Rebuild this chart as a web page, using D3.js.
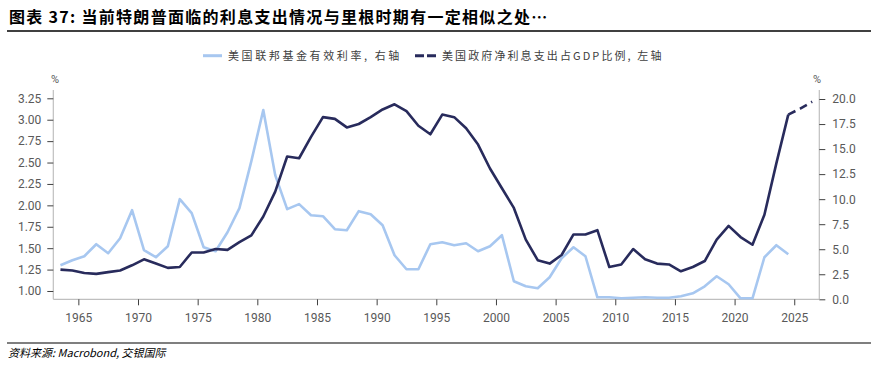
<!DOCTYPE html>
<html>
<head>
<meta charset="utf-8">
<script src="https://cdn.jsdelivr.net/npm/d3@7/dist/d3.min.js"></script>
<style>
  html, body { margin: 0; padding: 0; background: #fff; }
  svg { display: block; }
</style>
</head>
<body>
<svg id="chart" width="871" height="367"></svg>
<script>
// ---- Data ----
const titleText = "图表 37: 当前特朗普面临的利息支出情况与里根时期有一定相似之处…";
const sourceText = "资料来源: Macrobond, 交银国际";
const legendFed = "美国联邦基金有效利率, 右轴";
const legendInt = "美国政府净利息支出占GDP比例, 左轴";

const interestYears = d3.range(1963, 2027); // 1963..2026
const interestValues = [
  1.25, 1.24, 1.21, 1.20, 1.22, 1.24, 1.30, 1.37, 1.32, 1.27,
  1.28, 1.45, 1.45, 1.49, 1.48, 1.57, 1.65, 1.87, 2.16, 2.57,
  2.55, 2.80, 3.03, 3.01, 2.91, 2.95, 3.03, 3.12, 3.18, 3.10,
  2.93, 2.83, 3.06, 3.03, 2.90, 2.71, 2.43, 2.20, 1.97, 1.60,
  1.36, 1.32, 1.42, 1.66, 1.66, 1.71, 1.28, 1.31, 1.49, 1.37,
  1.32, 1.31, 1.23, 1.28, 1.35, 1.60, 1.76, 1.63, 1.54, 1.89,
  2.49, 3.06, 3.13, 3.21
];
const lastActualYear = 2024; // after this: projection (dashed)

const fedYears = d3.range(1963, 2025); // 1963..2024
const fedValues = [
  3.4, 3.9, 4.3, 5.5, 4.6, 6.1, 8.9, 4.9, 4.2, 5.3,
  10.0, 8.6, 5.2, 4.8, 6.7, 9.1, 13.8, 18.9, 12.4, 9.0,
  9.5, 8.4, 8.3, 7.0, 6.9, 8.8, 8.5, 7.4, 4.4, 3.0,
  3.0, 5.5, 5.7, 5.4, 5.6, 4.8, 5.3, 6.4, 1.8, 1.3,
  1.1, 2.2, 4.1, 5.2, 4.3, 0.2, 0.2, 0.1, 0.15, 0.2,
  0.15, 0.15, 0.3, 0.6, 1.3, 2.3, 1.5, 0.1, 0.1, 4.2,
  5.4, 4.5
];

const xTicks = [1965, 1970, 1975, 1980, 1985, 1990, 1995, 2000, 2005, 2010, 2015, 2020, 2025];
const leftTicks = [1.00, 1.25, 1.50, 1.75, 2.00, 2.25, 2.50, 2.75, 3.00, 3.25];
const rightTicks = [0, 2.5, 5, 7.5, 10, 12.5, 15, 17.5, 20];

// ---- Layout ----
const svg = d3.select("#chart");
const plot = { left: 53.3, right: 819.3, top: 90, bottom: 299.3 };
const darkColor = "#282b5c";
const lightColor = "#a7c7f0";
const axisColor = "#bfbfbf";
const labelColor = "#595959";
const numFont = "Roboto, 'Liberation Sans', sans-serif";
const cjkFont = "'Noto Sans CJK SC', sans-serif";

const x = d3.scaleLinear().domain([1962.9, 2027.1]).range([plot.left, plot.right]);
const yL = d3.scaleLinear().domain([0.903, 3.347]).range([plot.bottom, plot.top]);
const yR = d3.scaleLinear().domain([0, 20.9]).range([plot.bottom, plot.top]);

// Title
svg.append("text")
  .attr("x", 9).attr("y", 22.5)
  .attr("font-family", cjkFont).attr("font-weight", "bold")
  .attr("font-size", 16).attr("letter-spacing", 1.3)
  .attr("fill", "#000")
  .text(titleText);
svg.append("line").attr("x1", 7).attr("x2", 871).attr("y1", 31).attr("y2", 31)
  .attr("stroke", "#000").attr("stroke-width", 1.5);

// Legend
const lg = svg.append("g").attr("font-family", cjkFont).attr("font-size", 11)
  .attr("fill", "#404040");
lg.append("line").attr("x1", 203).attr("x2", 222).attr("y1", 55.7).attr("y2", 55.7)
  .attr("stroke", lightColor).attr("stroke-width", 3);
lg.append("text").attr("x", 228).attr("y", 59.5).attr("letter-spacing", 2.6).text(legendFed);
lg.append("line").attr("x1", 415).attr("x2", 438).attr("y1", 55.7).attr("y2", 55.7)
  .attr("stroke", darkColor).attr("stroke-width", 3).attr("stroke-dasharray", "9,3");
lg.append("text").attr("x", 442).attr("y", 59.5).attr("letter-spacing", 2.1).text(legendInt);

// Axes
const axG = svg.append("g");
const leftAxis = axG.append("g").attr("transform", `translate(${plot.left},0)`)
  .call(d3.axisLeft(yL).tickValues(leftTicks).tickFormat(d3.format(".2f")).tickSize(6).tickPadding(6));
const rightAxis = axG.append("g").attr("transform", `translate(${plot.right},0)`)
  .call(d3.axisRight(yR).tickValues(rightTicks).tickFormat(d3.format(".1f")).tickSize(6).tickPadding(7));
const bottomAxis = axG.append("g").attr("transform", `translate(0,${plot.bottom})`)
  .call(d3.axisBottom(x).tickValues(xTicks).tickFormat(d3.format("d")).tickSize(6).tickPadding(8));

[leftAxis, rightAxis, bottomAxis].forEach(g => {
  g.select(".domain").attr("stroke", axisColor).attr("stroke-width", 1.2);
  g.selectAll(".tick line").attr("stroke", "#404040").attr("stroke-width", 1);
  g.selectAll(".tick text").attr("fill", labelColor).attr("font-family", numFont).attr("font-size", 12);
});
bottomAxis.select(".domain").attr("d", `M${plot.left},0H${plot.right}`);
leftAxis.select(".domain").attr("d", `M0,${plot.bottom}V${plot.top}`);
rightAxis.select(".domain").attr("d", `M0,${plot.bottom}V${plot.top}`);

// % unit labels
svg.append("text").attr("x", 55).attr("y", 83).attr("text-anchor", "middle")
  .attr("font-family", numFont).attr("font-size", 11).attr("fill", labelColor).text("%");
svg.append("text").attr("x", 817).attr("y", 83).attr("text-anchor", "middle")
  .attr("font-family", numFont).attr("font-size", 11).attr("fill", labelColor).text("%");

// Lines (annual values plotted mid-year)
const fedData = fedYears.map((yr, i) => ({ yr, v: fedValues[i] }));
const intData = interestYears.map((yr, i) => ({ yr, v: interestValues[i] }));

const lineR = d3.line().x(d => x(d.yr + 0.5)).y(d => yR(d.v));
const lineL = d3.line().x(d => x(d.yr + 0.5)).y(d => yL(d.v));

svg.append("path").datum(fedData).attr("d", lineR)
  .attr("fill", "none").attr("stroke", lightColor).attr("stroke-width", 2.6)
  .attr("stroke-linejoin", "round");

svg.append("path").datum(intData.filter(d => d.yr <= lastActualYear)).attr("d", lineL)
  .attr("fill", "none").attr("stroke", darkColor).attr("stroke-width", 2.6)
  .attr("stroke-linejoin", "round");
svg.append("path").datum(intData.filter(d => d.yr >= lastActualYear)).attr("d", lineL)
  .attr("fill", "none").attr("stroke", darkColor).attr("stroke-width", 2.6)
  .attr("stroke-dasharray", "8,5");

// Footer
svg.append("line").attr("x1", 7).attr("x2", 871).attr("y1", 343).attr("y2", 343)
  .attr("stroke", "#000").attr("stroke-width", 1.2);
svg.append("text").attr("x", 8).attr("y", 357)
  .attr("font-family", cjkFont).attr("font-size", 11).attr("font-style", "italic")
  .attr("fill", "#000").text(sourceText);
</script>
</body>
</html>
